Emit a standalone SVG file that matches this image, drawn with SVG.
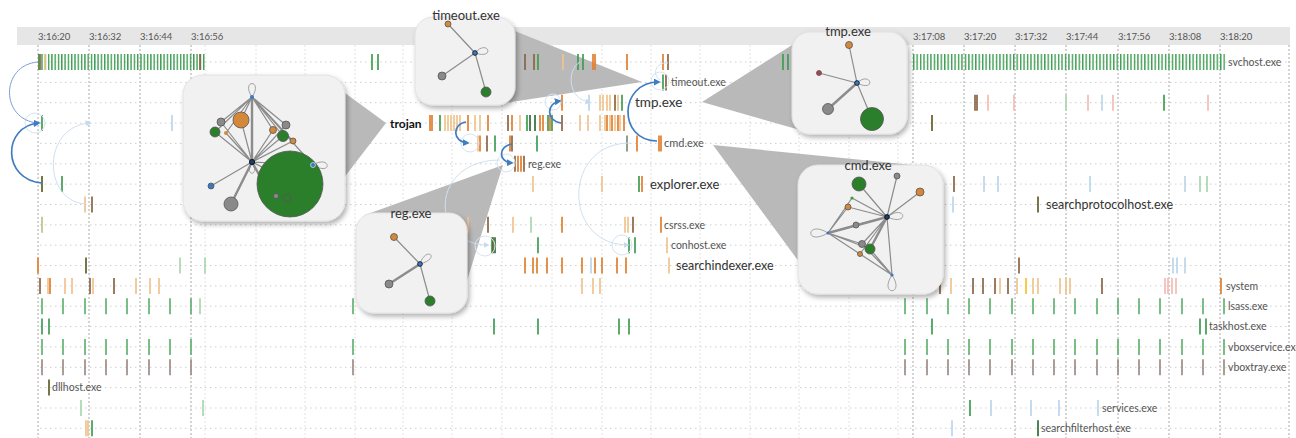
<svg xmlns="http://www.w3.org/2000/svg" xmlns:xlink="http://www.w3.org/1999/xlink" width="1296" height="438" viewBox="0 0 1296 438">
<style>
text{font-family:Lato,"Open Sans","Liberation Sans",sans-serif}
.tick{font-size:9.5px;fill:#555}
.lbl{font-size:10.5px;fill:#555}
.big{font-size:12.5px;fill:#333}
.ttl{font-size:13px;fill:#333;text-anchor:middle}
.maj{stroke:#a8a8a8;stroke-width:1;stroke-dasharray:2 2}
.min{stroke:#e2e2e2;stroke-width:1;stroke-dasharray:2 2}
.hr{stroke:#cfcfcf;stroke-width:1;stroke-dasharray:1.5 3.5}
.bar{fill:none;stroke-width:1.7}
.wedge{fill:#b9b9b9}
.box{fill:#f1f1f1;stroke:#e2e2e2;stroke-width:1}
.e{stroke:#8c8c8c;stroke-width:1.2;fill:none}
.e2{stroke:#8c8c8c;stroke-width:2.4;fill:none}
.loop{stroke:#9a9a9a;stroke-width:0.9;fill:none}
.nd{stroke:#555;stroke-width:0.8}
.arc{fill:none;stroke:#3f7dc2;stroke-width:1.7}
.arcm{fill:none;stroke:#7a9fd6;stroke-width:1}
.arcf{fill:none;stroke:#cfe0f1;stroke-width:1}
.ring{fill:none;stroke:#d6e4f3;stroke-width:1}
</style>
<defs>
<filter id="sh" x="-20%" y="-20%" width="140%" height="140%">
<feDropShadow dx="2" dy="3" stdDeviation="2.5" flood-color="#000" flood-opacity="0.3"/>
</filter>
<pattern id="svL" x="38" y="54" width="3.3" height="16" patternUnits="userSpaceOnUse"><rect width="1.4" height="16" fill="#3f9d52"/></pattern>
<pattern id="svR" x="913" y="54" width="3.45" height="16" patternUnits="userSpaceOnUse"><rect width="1.4" height="16" fill="#3f9d52"/></pattern>
<marker id="ah" viewBox="0 0 8 8" refX="6" refY="4" markerWidth="7" markerHeight="7" markerUnits="userSpaceOnUse" orient="auto"><path d="M0,0 L8,4 L0,8 z" fill="#3f7dc2"/></marker>
<marker id="ahm" viewBox="0 0 8 8" refX="6" refY="4" markerWidth="6" markerHeight="6" markerUnits="userSpaceOnUse" orient="auto"><path d="M0,0 L8,4 L0,8 z" fill="#7a9fd6"/></marker>
<marker id="ahf" viewBox="0 0 8 8" refX="6" refY="4" markerWidth="6" markerHeight="6" markerUnits="userSpaceOnUse" orient="auto"><path d="M0,0 L8,4 L0,8 z" fill="#c6daef"/></marker>
<path id="periodic" d="M42 0v16M63 0v16M85 0v16M106 0v16M127 0v16M149 0v16M170 0v16M191 0v16M353 0v16M905 0v16M927 0v16M948 0v16M969 0v16M990 0v16M1012 0v16M1033 0v16M1054 0v16M1075 0v16M1097 0v16M1118 0v16M1139 0v16M1160 0v16M1182 0v16M1203 0v16M1224 0v16"/>
</defs>
<rect width="1296" height="438" fill="#ffffff"/>

<g id="axis">
<rect x="17" y="27" width="1273" height="18" fill="#e6e6e6"/>
<text class="tick" x="38" y="39.5">3:16:20</text>
<text class="tick" x="89" y="39.5">3:16:32</text>
<text class="tick" x="140" y="39.5">3:16:44</text>
<text class="tick" x="191" y="39.5">3:16:56</text>
<text class="tick" x="913" y="39.5">3:17:08</text>
<text class="tick" x="964" y="39.5">3:17:20</text>
<text class="tick" x="1015" y="39.5">3:17:32</text>
<text class="tick" x="1066" y="39.5">3:17:44</text>
<text class="tick" x="1118" y="39.5">3:17:56</text>
<text class="tick" x="1169" y="39.5">3:18:08</text>
<text class="tick" x="1220" y="39.5">3:18:20</text>
</g>

<g id="grid">
<path class="min" d="M205 45V438M256 45V438M305 45V438M355 45V438M403 45V438M452 45V438M502 45V438M552 45V438M602 45V438M651 45V438M700 45V438M750 45V438M799 45V438M849 45V438M898 45V438"/>
<path class="maj" d="M38 45V438M89 45V438M140 45V438M191 45V438M913 45V438M964 45V438M1015 45V438M1066 45V438M1118 45V438M1169 45V438M1220 45V438M1289 45V438"/>
<path class="hr" d="M40 62H1290M40 82.4H1290M40 102.7H1290M40 123.1H1290M40 143.4H1290M40 163.8H1290M40 184.1H1290M40 204.5H1290M40 224.8H1290M40 245.2H1290M40 265.5H1290M40 285.9H1290M40 306.2H1290M40 326.6H1290M40 346.9H1290M40 367.3H1290M40 387.6H1290M40 408H1290M40 428.3H1290"/>
</g>

<g id="wedges">
<polygon class="wedge" points="330,82 386,123 330,196"/>
<polygon class="wedge" points="505,27 642,82 505,103"/>
<polygon class="wedge" points="702,102 800,40 800,130"/>
<polygon class="wedge" points="713,145 913,165 805,270"/>
<polygon class="wedge" points="503,165 365,215 465,287"/>
</g>

<g id="bars">
<rect x="38" y="54" width="168" height="16" fill="url(#svL)"/>
<rect x="913" y="54" width="312" height="16" fill="url(#svR)"/>
<use xlink:href="#periodic" href="#periodic" y="298.2" class="bar" stroke="#62b371"/>
<use xlink:href="#periodic" href="#periodic" y="338.9" class="bar" stroke="#62b371"/>
<use xlink:href="#periodic" href="#periodic" y="359.3" class="bar" stroke="#9b8d86"/>
<path class="bar" stroke="#3f9d52" d="M372 54v16M378 54v16M538 54v16M578 54v16M583 54v16M783 54v16M788 54v16M663 74.4v16M622 94.7v16M1164 94.7v16M42 115.1v16M440 115.1v16M527 115.1v16M548 115.1v16M552 115.1v16M495 135.4v16M537 135.4v16M62 176.1v16M639 176.1v16M492 237.2v16M538 237.2v16M629 237.2v16M635 237.2v16M42 318.6v16M49 318.6v16M494 318.6v16M538 318.6v16M619 318.6v16M629 318.6v16M932 318.6v16M1200 318.6v16M1206 318.6v16M970 400v16M92 420.3v16"/>
<path class="bar" stroke="#2f6e3a" d="M1038 420.3v16M530 115.1v16M535 115.1v16M495 237.2v16"/>
<path class="bar" stroke="#e07f2e" d="M593 54v16M595 54v16M627 54v16M663 54v16M562 94.7v16M430 115.1v16M432 115.1v16M468 115.1v16M488 115.1v16M512 115.1v16M540 115.1v16M543 115.1v16M550 115.1v16M607 115.1v16M612 115.1v16M618 115.1v16M624 115.1v16M480 135.4v16M510 135.4v16M637 135.4v16M659 135.4v16M661 135.4v16M518 155.8v16M521 155.8v16M642 176.1v16M562 216.8v16M661 216.8v16M38 257.5v16M525 257.5v16M533 257.5v16M537 257.5v16M547 257.5v16M562 257.5v16M582 257.5v16M595 257.5v16M602 257.5v16M617 257.5v16M626 257.5v16M50 277.9v16M1221 277.9v16"/>
<path class="bar" stroke="#8b6545" d="M40 54v16M200 54v16M525 54v16M534 54v16M668 54v16M666 74.4v16M615 94.7v16M975 94.7v16M977 94.7v16M508 115.1v16M562 115.1v16M487 135.4v16M512 135.4v16M515 155.8v16M524 155.8v16M954 176.1v16M92 196.5v16M488 216.8v16M633 216.8v16M1019 257.5v16M40 277.9v16M90 277.9v16M114 277.9v16M940 277.9v16M973 277.9v16M983 277.9v16M995 277.9v16M1008 277.9v16M1102 277.9v16"/>
<path class="bar" stroke="#efc48f" d="M45 54v16M563 54v16M600 94.7v16M603 94.7v16M607 94.7v16M610 94.7v16M618 94.7v16M445 115.1v16M448 115.1v16M451 115.1v16M454 115.1v16M457 115.1v16M460 115.1v16M475 115.1v16M480 115.1v16M520 115.1v16M580 115.1v16M588 115.1v16M600 115.1v16M605 115.1v16M610 115.1v16M615 115.1v16M620 115.1v16M478 135.4v16M533 176.1v16M602 176.1v16M85 196.5v16M468 216.8v16M513 216.8v16M625 216.8v16M628 216.8v16M667 237.2v16M669 257.5v16M48 277.9v16M65 277.9v16M72 277.9v16M93 277.9v16M136 277.9v16M150 277.9v16M159 277.9v16M582 277.9v16M593 277.9v16M600 277.9v16M951 277.9v16M1000 277.9v16M1017 277.9v16M1033 277.9v16M1038 277.9v16M1060 277.9v16M1066 277.9v16M1070 277.9v16M86 420.3v16M88 420.3v16"/>
<path class="bar" stroke="#f2c230" stroke-width="2.6" d="M1026 277.9v16"/>
<path class="bar" stroke="#5f5f2a" d="M932 115.1v16M42 176.1v16M1038 196.5v16M493 237.2v16M86 257.5v16M49 379.6v16"/>
<path class="bar" stroke="#7c8c7c" d="M627 135.4v16"/>
<path class="bar" stroke="#f4bdb6" d="M988 94.7v16M1014 94.7v16M1088 94.7v16M1113 94.7v16M1208 94.7v16M1165 277.9v16M1168 277.9v16M1172 277.9v16M1176 277.9v16"/>
<path class="bar" stroke="#bcd5ec" d="M172 115.1v16M1102 94.7v16M589 94.7v16M984 176.1v16M998 176.1v16M1090 176.1v16M1185 176.1v16M953 196.5v16M591 257.5v16M1173 257.5v16M1177 257.5v16M1185 257.5v16M991 400v16M1031 400v16M1059 400v16M1098 400v16M952 420.3v16"/>
<path class="bar" stroke="#a9d8b0" d="M1066 94.7v16M531 216.8v16M1200 176.1v16M1207 176.1v16M180 257.5v16M205 257.5v16M200 298.2v16M81 400v16M203 400v16"/>
<path class="bar" stroke="#b9c48a" d="M42 216.8v16"/>
</g>

<g id="connectors">
<circle class="ring" cx="35" cy="123" r="10"/>
<circle class="ring" cx="470" cy="143" r="9"/>
<circle class="ring" cx="506" cy="163" r="9"/>
<circle class="ring" cx="553" cy="102" r="8"/>
<circle class="ring" cx="660" cy="81" r="9"/>
<circle class="ring" cx="485" cy="246" r="10"/>
<circle class="ring" cx="622" cy="245" r="10"/>
<path class="arcm" d="M38,62 C0,65 0,120 38,123" marker-end="url(#ahm)"/>
<path class="arc" d="M42,183 C2,180 2,126 39,123" marker-end="url(#ah)"/>
<path class="arcf" d="M85,204 C42,200 42,126 90,123" marker-end="url(#ahf)"/>
<path class="arc" d="M466,122 C452,124 452,142 468,143" marker-end="url(#ah)"/>
<path class="arc" d="M512,144 C498,146 498,162 512,163" marker-end="url(#ah)"/>
<path class="arc" d="M561,123 C546,121 546,103 560,101" marker-end="url(#ah)"/>
<path class="arcf" d="M580,62 C566,70 568,100 590,102" marker-end="url(#ahf)"/>
<path class="arc" d="M657,141 C618,141 618,82 659,82" marker-end="url(#ah)"/>
<path class="arcf" d="M668,63 C655,62 652,75 660,80"/>
<path class="arcf" d="M500,160 C429,160 429,245 488,245" marker-end="url(#ahf)"/>
<path class="arcf" d="M630,143 C562,143 562,245 628,245" marker-end="url(#ahf)"/>
</g>

<g id="labels">
<text class="lbl" x="1228" y="65.5">svchost.exe</text>
<text class="lbl" x="671" y="86">timeout.exe</text>
<text x="635" y="107" style="font-size:13.5px;fill:#333">tmp.exe</text>
<text x="390" y="127.5" style="font-size:12px;font-weight:bold;fill:#111">trojan</text>
<text x="664" y="147" style="font-size:11px;fill:#555">cmd.exe</text>
<text class="lbl" x="528" y="167.5">reg.exe</text>
<text x="650" y="189" style="font-size:13px;fill:#333">explorer.exe</text>
<text class="big" x="1046" y="209">searchprotocolhost.exe</text>
<text class="lbl" x="664" y="228.5">csrss.exe</text>
<text class="lbl" x="671" y="249">conhost.exe</text>
<text class="big" x="676" y="270">searchindexer.exe</text>
<text class="lbl" x="1226" y="289.5">system</text>
<text class="lbl" x="1228" y="310">lsass.exe</text>
<text class="lbl" x="1209" y="330">taskhost.exe</text>
<text class="lbl" x="1228" y="350.5">vboxservice.exe</text>
<text class="lbl" x="1228" y="371">vboxtray.exe</text>
<text class="lbl" x="52" y="391">dllhost.exe</text>
<text class="lbl" x="1102" y="411.5">services.exe</text>
<text class="lbl" x="1041" y="432">searchfilterhost.exe</text>
</g>

<g id="callout-trojan">
<rect class="box" x="183" y="75" width="162" height="146" rx="20" filter="url(#sh)"/>
<path class="loop" d="M252,97 C240,79 264,79 252,97M252,162 C243,177 261,177 252,162M313,165 C331,154 333,177 313,165"/>
<path class="e" d="M252,97 L221,122M252,97 L241,120M252,97 L215,132M252,97 L226,133M252,97 L273,130M252,97 L286,125M252,97 L283,136M252,97 L293,141M252,97 L313,165M252,162 L221,122M252,162 L241,120M252,162 L215,132M252,162 L226,133M252,162 L273,130M252,162 L286,125M252,162 L283,136M252,162 L293,141M252,162 L211,186M252,162 L313,165M252,162 L272,172"/>
<path class="e2" d="M252,97 L252,162M252,162 L231,204M252,162 L262,180"/>
<circle class="nd" cx="290" cy="184" r="33" fill="#2b7f2b" stroke="#1d4d1d"/>
<circle class="nd" cx="276" cy="196" r="2.5" fill="#8a8a8a"/>
<circle class="nd" cx="287" cy="198" r="4" fill="none" stroke="#1d3d1d"/>
<circle class="nd" cx="221" cy="122" r="4" fill="#8a8a8a"/>
<circle class="nd" cx="241" cy="120" r="8" fill="#d4883a"/>
<circle class="nd" cx="215" cy="132" r="5" fill="#2b7f2b"/>
<circle cx="226" cy="133" r="2" fill="#d4883a"/>
<circle class="nd" cx="273" cy="130" r="3.5" fill="#d4883a"/>
<circle class="nd" cx="286" cy="125" r="4" fill="#8a8a8a"/>
<circle class="nd" cx="283" cy="136" r="5.5" fill="#2b7f2b"/>
<circle class="nd" cx="293" cy="141" r="3" fill="#d4883a"/>
<circle cx="313" cy="165" r="2.5" fill="#3a78c0" stroke="#fff" stroke-width="0.6"/>
<circle class="nd" cx="211" cy="186" r="3" fill="#3a78c0"/>
<circle class="nd" cx="231" cy="204" r="7" fill="#8a8a8a"/>
<circle cx="252" cy="97" r="2" fill="#3a78c0"/>
<circle cx="252" cy="162" r="2.6" fill="#1c3f6e" stroke="#000" stroke-width="0.8"/>
</g>

<g id="callout-timeout">
<rect class="box" x="415" y="17" width="100" height="88" rx="18" filter="url(#sh)"/>
<path class="loop" d="M475,53 C488,38 496,60 475,53"/>
<path class="e" d="M475,53 L448,24M475,53 L442,76M475,53 L486,92"/>
<circle class="nd" cx="448" cy="24" r="3" fill="#d4883a"/>
<circle class="nd" cx="442" cy="76" r="4" fill="#8a8a8a"/>
<circle class="nd" cx="486" cy="92" r="5" fill="#2b7f2b"/>
<circle cx="475" cy="53" r="2.4" fill="#3a78c0" stroke="#000" stroke-width="0.7"/>
<text class="ttl" x="466" y="20">timeout.exe</text>
</g>

<g id="callout-tmp">
<rect class="box" x="792" y="32" width="115" height="102" rx="18" filter="url(#sh)"/>
<path class="loop" d="M857,83 C871,70 877,93 857,83"/>
<path class="e" d="M857,83 L849,45M857,83 L819,73M857,83 L872,119"/>
<path class="e2" d="M857,83 L828,109"/>
<circle class="nd" cx="849" cy="45" r="3.5" fill="#d4883a"/>
<circle class="nd" cx="819" cy="73" r="2.5" fill="#b0404e"/>
<circle class="nd" cx="828" cy="109" r="5.5" fill="#8a8a8a"/>
<circle class="nd" cx="872" cy="119" r="11.5" fill="#2b7f2b"/>
<circle cx="857" cy="83" r="2.4" fill="#3a78c0" stroke="#000" stroke-width="0.7"/>
<text class="ttl" x="848" y="36">tmp.exe</text>
</g>

<g id="callout-cmd">
<rect class="box" x="798" y="165" width="145" height="129" rx="20" filter="url(#sh)"/>
<path class="loop" d="M887,217 C906,203 910,227 887,217M828,233 C806,219 804,247 828,233M892,275 C878,296 906,296 892,275"/>
<path class="e" d="M887,217 L859,184M887,217 L897,176M887,217 L920,192M887,217 L852,198M887,217 L848,207M887,217 L856,225M887,217 L862,244M887,217 L860,254M887,217 L892,275M828,233 L848,207M828,233 L852,198M828,233 L856,225M828,233 L862,244M828,233 L870,249M828,233 L860,254M828,233 L892,275M892,275 L862,244M892,275 L870,249"/>
<path class="e2" d="M887,217 L870,249M887,217 L828,233"/>
<circle class="nd" cx="859" cy="184" r="7" fill="#2b7f2b"/>
<circle class="nd" cx="897" cy="176" r="3" fill="#8a8a8a"/>
<circle class="nd" cx="920" cy="192" r="4" fill="#d4883a"/>
<circle cx="852" cy="198" r="1.6" fill="#3aa03a"/>
<circle class="nd" cx="848" cy="207" r="3" fill="#d4883a"/>
<circle class="nd" cx="856" cy="225" r="3" fill="#8a8a8a"/>
<circle class="nd" cx="862" cy="244" r="3.5" fill="#8a8a8a"/>
<circle class="nd" cx="870" cy="249" r="5" fill="#2b7f2b"/>
<circle class="nd" cx="860" cy="254" r="2.5" fill="#d4883a"/>
<circle cx="828" cy="233" r="1.6" fill="#3a78c0"/>
<circle cx="892" cy="275" r="1.6" fill="#3a78c0"/>
<circle cx="887" cy="217" r="2.4" fill="#1c3f6e" stroke="#000" stroke-width="0.8"/>
<text class="ttl" x="868" y="170">cmd.exe</text>
</g>

<g id="callout-reg">
<rect class="box" x="356" y="213" width="111" height="100" rx="18" filter="url(#sh)"/>
<path class="loop" d="M420,264 C426,245 442,258 420,264"/>
<path class="e" d="M420,264 L394,237M420,264 L430,301"/>
<path class="e2" d="M420,264 L389,284"/>
<circle class="nd" cx="394" cy="237" r="3.5" fill="#d4883a"/>
<circle class="nd" cx="389" cy="284" r="4" fill="#8a8a8a"/>
<circle class="nd" cx="430" cy="301" r="5" fill="#2b7f2b"/>
<circle cx="420" cy="264" r="2.4" fill="#3a78c0" stroke="#000" stroke-width="0.7"/>
<text class="ttl" x="411" y="218">reg.exe</text>
</g>
</svg>
